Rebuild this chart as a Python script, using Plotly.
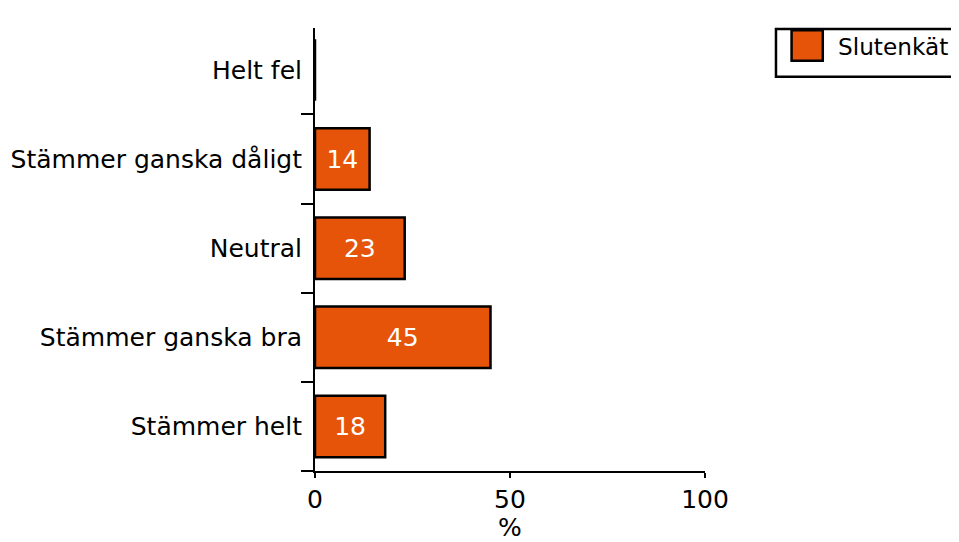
import plotly.graph_objects as go

# Data (bottom to top, as plotly draws horizontal bars)
categories = ["Stämmer helt", "Stämmer ganska bra", "Neutral",
              "Stämmer ganska dåligt", "Helt fel"]
values = [18, 45, 23, 14, 0]
series_name = "Slutenkät"
x_ticks = [0, 50, 100]

bar_color = "#E6540A"
font_family = "DejaVu Sans"
fsize = 25

labels = [str(v) if v else "" for v in values]

fig = go.Figure(
    go.Bar(
        x=values,
        y=categories,
        orientation="h",
        width=0.69,
        name=series_name,
        marker=dict(color=bar_color, line=dict(color="black", width=2.5)),
        text=labels,
        textposition="inside",
        insidetextanchor="middle",
        textangle=0,
        textfont=dict(color="white", size=fsize, family=font_family),
        showlegend=False,
    )
)

fig.update_xaxes(
    range=[0, 100],
    tickvals=x_ticks,
    ticks="outside",
    ticklen=5,
    tickwidth=1.5,
    tickcolor="black",
    showline=True,
    linecolor="black",
    linewidth=2,
    showgrid=False,
    zeroline=False,
    tickfont=dict(size=fsize, color="black", family=font_family),
    title=dict(text="%", font=dict(size=fsize, color="black", family=font_family), standoff=6),
)
fig.update_yaxes(
    range=[-0.5, 4.47],
    tickson="boundaries",
    ticks="outside",
    ticklen=12,
    tickwidth=2,
    tickcolor="black",
    showline=True,
    linecolor="black",
    linewidth=2,
    showgrid=False,
    ticklabelstandoff=6,
    tickfont=dict(size=fsize, color="black", family=font_family),
)

# Legend drawn as a framed box with a swatch
fig.add_shape(type="rect", xref="paper", yref="paper",
              x0=1.182, x1=1.75, y0=0.89, y1=0.998,
              line=dict(color="black", width=2.5), fillcolor="white")
fig.add_shape(type="rect", xref="paper", yref="paper",
              x0=1.222, x1=1.302, y0=0.926, y1=0.995,
              line=dict(color="black", width=2.5), fillcolor=bar_color)
fig.add_annotation(xref="paper", yref="paper", x=1.335, y=0.958,
                   text=series_name, showarrow=False, xanchor="left",
                   yanchor="middle",
                   font=dict(size=23.2, color="black", family=font_family))

# the page body adds an 8px offset, so the figure is sized to fit the window
fig.update_layout(
    width=951,
    height=534,
    margin=dict(l=307, r=254, t=20, b=71, autoexpand=False),
    plot_bgcolor="white",
    paper_bgcolor="white",
    bargap=0.31,
)

fig.write_html("out.html")
